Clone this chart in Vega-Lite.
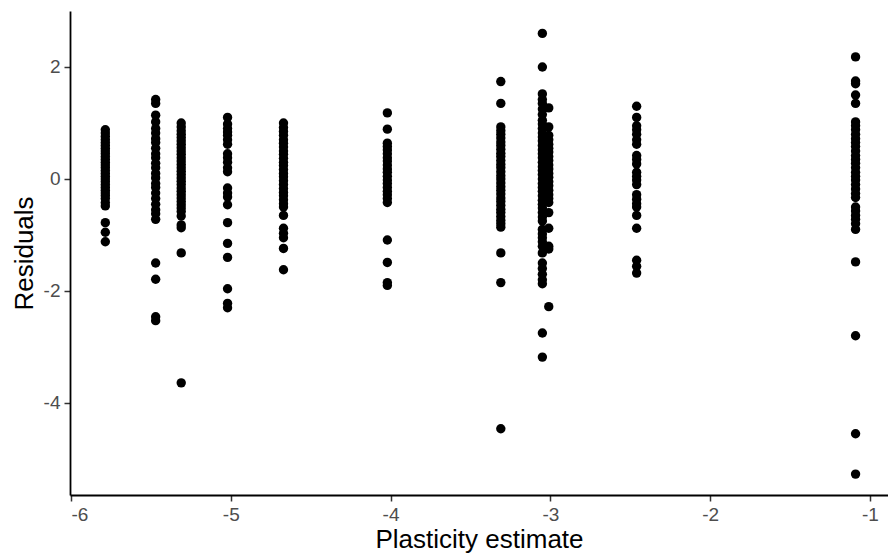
{
  "$schema": "https://vega.github.io/schema/vega-lite/v6.json",
  "autosize": {"type": "none"},
  "padding": {"left": 70, "top": 11, "right": 0, "bottom": 59},
  "width": 818,
  "height": 484,
  "background": "white",
  "config": {
    "view": {"stroke": null},
    "font": "Liberation Sans",
    "axis": {
      "grid": false,
      "domainColor": "black",
      "domainWidth": 1.8,
      "tickColor": "#333333",
      "tickWidth": 1.5,
      "tickSize": 6,
      "labelColor": "#4D4D4D",
      "labelFont": "Liberation Sans",
      "labelFontSize": 19,
      "labelPadding": 4,
      "titleColor": "black",
      "titleFont": "Liberation Sans",
      "titleFontSize": 26,
      "titleFontWeight": "normal"
    }
  },
  "datasets": {
    "pts": [
      {"x": -5.785, "y": 0.88}, {"x": -5.785, "y": 0.82}, {"x": -5.785, "y": 0.76}, {"x": -5.785, "y": 0.7}, {"x": -5.785, "y": 0.65}, {"x": -5.785, "y": 0.6}, {"x": -5.785, "y": 0.55}, {"x": -5.785, "y": 0.5}, {"x": -5.785, "y": 0.45}, {"x": -5.785, "y": 0.4}, {"x": -5.785, "y": 0.35}, {"x": -5.785, "y": 0.3}, {"x": -5.785, "y": 0.25}, {"x": -5.785, "y": 0.2}, {"x": -5.785, "y": 0.15}, {"x": -5.785, "y": 0.1}, {"x": -5.785, "y": 0.05}, {"x": -5.785, "y": 0.0}, {"x": -5.785, "y": -0.05}, {"x": -5.785, "y": -0.1}, {"x": -5.785, "y": -0.15}, {"x": -5.785, "y": -0.2}, {"x": -5.785, "y": -0.25}, {"x": -5.785, "y": -0.3}, {"x": -5.785, "y": -0.35}, {"x": -5.785, "y": -0.42}, {"x": -5.785, "y": -0.48}, {"x": -5.785, "y": -0.78}, {"x": -5.785, "y": -0.95}, {"x": -5.785, "y": -1.12},

      {"x": -5.47, "y": 1.42}, {"x": -5.47, "y": 1.35}, {"x": -5.47, "y": 1.14}, {"x": -5.47, "y": 1.02}, {"x": -5.47, "y": 0.9}, {"x": -5.47, "y": 0.82}, {"x": -5.47, "y": 0.72}, {"x": -5.47, "y": 0.65}, {"x": -5.47, "y": 0.55}, {"x": -5.47, "y": 0.45}, {"x": -5.47, "y": 0.38}, {"x": -5.47, "y": 0.28}, {"x": -5.47, "y": 0.2}, {"x": -5.47, "y": 0.1}, {"x": -5.47, "y": 0.02}, {"x": -5.47, "y": -0.08}, {"x": -5.47, "y": -0.15}, {"x": -5.47, "y": -0.25}, {"x": -5.47, "y": -0.35}, {"x": -5.47, "y": -0.45}, {"x": -5.47, "y": -0.55}, {"x": -5.47, "y": -0.62}, {"x": -5.47, "y": -0.72}, {"x": -5.47, "y": -1.5}, {"x": -5.47, "y": -1.79}, {"x": -5.47, "y": -2.46}, {"x": -5.47, "y": -2.53},

      {"x": -5.31, "y": 1.0}, {"x": -5.31, "y": 0.93}, {"x": -5.31, "y": 0.86}, {"x": -5.31, "y": 0.8}, {"x": -5.31, "y": 0.74}, {"x": -5.31, "y": 0.68}, {"x": -5.31, "y": 0.62}, {"x": -5.31, "y": 0.56}, {"x": -5.31, "y": 0.5}, {"x": -5.31, "y": 0.44}, {"x": -5.31, "y": 0.38}, {"x": -5.31, "y": 0.32}, {"x": -5.31, "y": 0.26}, {"x": -5.31, "y": 0.2}, {"x": -5.31, "y": 0.14}, {"x": -5.31, "y": 0.08}, {"x": -5.31, "y": 0.02}, {"x": -5.31, "y": -0.04}, {"x": -5.31, "y": -0.1}, {"x": -5.31, "y": -0.16}, {"x": -5.31, "y": -0.22}, {"x": -5.31, "y": -0.28}, {"x": -5.31, "y": -0.34}, {"x": -5.31, "y": -0.4}, {"x": -5.31, "y": -0.46}, {"x": -5.31, "y": -0.52}, {"x": -5.31, "y": -0.58}, {"x": -5.31, "y": -0.66}, {"x": -5.31, "y": -0.82}, {"x": -5.31, "y": -0.87}, {"x": -5.31, "y": -1.32}, {"x": -5.31, "y": -3.64},

      {"x": -5.02, "y": 1.1}, {"x": -5.02, "y": 0.98}, {"x": -5.02, "y": 0.9}, {"x": -5.02, "y": 0.84}, {"x": -5.02, "y": 0.78}, {"x": -5.02, "y": 0.7}, {"x": -5.02, "y": 0.62}, {"x": -5.02, "y": 0.45}, {"x": -5.02, "y": 0.38}, {"x": -5.02, "y": 0.3}, {"x": -5.02, "y": 0.2}, {"x": -5.02, "y": 0.13}, {"x": -5.02, "y": -0.16}, {"x": -5.02, "y": -0.25}, {"x": -5.02, "y": -0.32}, {"x": -5.02, "y": -0.46}, {"x": -5.02, "y": -0.78}, {"x": -5.02, "y": -1.15}, {"x": -5.02, "y": -1.4}, {"x": -5.02, "y": -1.96}, {"x": -5.02, "y": -2.22}, {"x": -5.02, "y": -2.3},

      {"x": -4.67, "y": 1.0}, {"x": -4.67, "y": 0.92}, {"x": -4.67, "y": 0.85}, {"x": -4.67, "y": 0.78}, {"x": -4.67, "y": 0.7}, {"x": -4.67, "y": 0.64}, {"x": -4.67, "y": 0.57}, {"x": -4.67, "y": 0.5}, {"x": -4.67, "y": 0.44}, {"x": -4.67, "y": 0.37}, {"x": -4.67, "y": 0.3}, {"x": -4.67, "y": 0.24}, {"x": -4.67, "y": 0.17}, {"x": -4.67, "y": 0.1}, {"x": -4.67, "y": 0.04}, {"x": -4.67, "y": -0.03}, {"x": -4.67, "y": -0.1}, {"x": -4.67, "y": -0.17}, {"x": -4.67, "y": -0.24}, {"x": -4.67, "y": -0.3}, {"x": -4.67, "y": -0.37}, {"x": -4.67, "y": -0.44}, {"x": -4.67, "y": -0.5}, {"x": -4.67, "y": -0.65}, {"x": -4.67, "y": -0.88}, {"x": -4.67, "y": -0.97}, {"x": -4.67, "y": -1.05}, {"x": -4.67, "y": -1.24}, {"x": -4.67, "y": -1.62},

      {"x": -4.02, "y": 1.18}, {"x": -4.02, "y": 0.89}, {"x": -4.02, "y": 0.64}, {"x": -4.02, "y": 0.58}, {"x": -4.02, "y": 0.52}, {"x": -4.02, "y": 0.45}, {"x": -4.02, "y": 0.38}, {"x": -4.02, "y": 0.32}, {"x": -4.02, "y": 0.25}, {"x": -4.02, "y": 0.18}, {"x": -4.02, "y": 0.12}, {"x": -4.02, "y": 0.05}, {"x": -4.02, "y": -0.02}, {"x": -4.02, "y": -0.08}, {"x": -4.02, "y": -0.15}, {"x": -4.02, "y": -0.22}, {"x": -4.02, "y": -0.28}, {"x": -4.02, "y": -0.35}, {"x": -4.02, "y": -0.42}, {"x": -4.02, "y": -1.09}, {"x": -4.02, "y": -1.49}, {"x": -4.02, "y": -1.85}, {"x": -4.02, "y": -1.9},

      {"x": -3.31, "y": 1.74}, {"x": -3.31, "y": 1.35}, {"x": -3.31, "y": 0.93}, {"x": -3.31, "y": 0.86}, {"x": -3.31, "y": 0.8}, {"x": -3.31, "y": 0.73}, {"x": -3.31, "y": 0.66}, {"x": -3.31, "y": 0.6}, {"x": -3.31, "y": 0.53}, {"x": -3.31, "y": 0.46}, {"x": -3.31, "y": 0.4}, {"x": -3.31, "y": 0.33}, {"x": -3.31, "y": 0.26}, {"x": -3.31, "y": 0.2}, {"x": -3.31, "y": 0.13}, {"x": -3.31, "y": 0.06}, {"x": -3.31, "y": 0.0}, {"x": -3.31, "y": -0.07}, {"x": -3.31, "y": -0.14}, {"x": -3.31, "y": -0.2}, {"x": -3.31, "y": -0.27}, {"x": -3.31, "y": -0.34}, {"x": -3.31, "y": -0.4}, {"x": -3.31, "y": -0.47}, {"x": -3.31, "y": -0.54}, {"x": -3.31, "y": -0.6}, {"x": -3.31, "y": -0.67}, {"x": -3.31, "y": -0.74}, {"x": -3.31, "y": -0.8}, {"x": -3.31, "y": -0.86}, {"x": -3.31, "y": -1.32}, {"x": -3.31, "y": -1.85}, {"x": -3.31, "y": -4.46},

      {"x": -3.05, "y": 2.6}, {"x": -3.05, "y": 2.0}, {"x": -3.05, "y": 1.52}, {"x": -3.05, "y": 1.42}, {"x": -3.05, "y": 1.35}, {"x": -3.05, "y": 1.25}, {"x": -3.05, "y": 1.15}, {"x": -3.05, "y": 1.05}, {"x": -3.05, "y": 0.98}, {"x": -3.05, "y": 0.9}, {"x": -3.05, "y": 0.82}, {"x": -3.05, "y": 0.75}, {"x": -3.05, "y": 0.68}, {"x": -3.05, "y": 0.6}, {"x": -3.05, "y": 0.52}, {"x": -3.05, "y": 0.45}, {"x": -3.05, "y": 0.38}, {"x": -3.05, "y": 0.3}, {"x": -3.05, "y": 0.22}, {"x": -3.05, "y": 0.15}, {"x": -3.05, "y": 0.08}, {"x": -3.05, "y": 0.0}, {"x": -3.05, "y": -0.08}, {"x": -3.05, "y": -0.15}, {"x": -3.05, "y": -0.22}, {"x": -3.05, "y": -0.3}, {"x": -3.05, "y": -0.38}, {"x": -3.05, "y": -0.45}, {"x": -3.05, "y": -0.52}, {"x": -3.05, "y": -0.6}, {"x": -3.05, "y": -0.68}, {"x": -3.05, "y": -0.75}, {"x": -3.05, "y": -0.9}, {"x": -3.05, "y": -0.98}, {"x": -3.05, "y": -1.05}, {"x": -3.05, "y": -1.12}, {"x": -3.05, "y": -1.2}, {"x": -3.05, "y": -1.32}, {"x": -3.05, "y": -1.5}, {"x": -3.05, "y": -1.6}, {"x": -3.05, "y": -1.7}, {"x": -3.05, "y": -1.8}, {"x": -3.05, "y": -1.87}, {"x": -3.05, "y": -2.75}, {"x": -3.05, "y": -3.18},

      {"x": -3.01, "y": 1.27}, {"x": -3.01, "y": 0.93}, {"x": -3.01, "y": 0.78}, {"x": -3.01, "y": 0.7}, {"x": -3.01, "y": 0.62}, {"x": -3.01, "y": 0.55}, {"x": -3.01, "y": 0.48}, {"x": -3.01, "y": 0.4}, {"x": -3.01, "y": 0.33}, {"x": -3.01, "y": 0.25}, {"x": -3.01, "y": 0.18}, {"x": -3.01, "y": 0.1}, {"x": -3.01, "y": 0.03}, {"x": -3.01, "y": -0.05}, {"x": -3.01, "y": -0.12}, {"x": -3.01, "y": -0.2}, {"x": -3.01, "y": -0.28}, {"x": -3.01, "y": -0.35}, {"x": -3.01, "y": -0.42}, {"x": -3.01, "y": -0.6}, {"x": -3.01, "y": -0.88}, {"x": -3.01, "y": -1.2}, {"x": -3.01, "y": -1.25}, {"x": -3.01, "y": -2.28},

      {"x": -2.46, "y": 1.3}, {"x": -2.46, "y": 1.1}, {"x": -2.46, "y": 0.95}, {"x": -2.46, "y": 0.88}, {"x": -2.46, "y": 0.8}, {"x": -2.46, "y": 0.7}, {"x": -2.46, "y": 0.62}, {"x": -2.46, "y": 0.42}, {"x": -2.46, "y": 0.35}, {"x": -2.46, "y": 0.27}, {"x": -2.46, "y": 0.12}, {"x": -2.46, "y": 0.05}, {"x": -2.46, "y": -0.02}, {"x": -2.46, "y": -0.1}, {"x": -2.46, "y": -0.28}, {"x": -2.46, "y": -0.36}, {"x": -2.46, "y": -0.44}, {"x": -2.46, "y": -0.5}, {"x": -2.46, "y": -0.65}, {"x": -2.46, "y": -0.88}, {"x": -2.46, "y": -1.45}, {"x": -2.46, "y": -1.56}, {"x": -2.46, "y": -1.68},

      {"x": -1.09, "y": 2.18}, {"x": -1.09, "y": 1.75}, {"x": -1.09, "y": 1.7}, {"x": -1.09, "y": 1.5}, {"x": -1.09, "y": 1.35}, {"x": -1.09, "y": 1.02}, {"x": -1.09, "y": 0.95}, {"x": -1.09, "y": 0.88}, {"x": -1.09, "y": 0.8}, {"x": -1.09, "y": 0.72}, {"x": -1.09, "y": 0.65}, {"x": -1.09, "y": 0.58}, {"x": -1.09, "y": 0.5}, {"x": -1.09, "y": 0.42}, {"x": -1.09, "y": 0.35}, {"x": -1.09, "y": 0.28}, {"x": -1.09, "y": 0.2}, {"x": -1.09, "y": 0.12}, {"x": -1.09, "y": 0.05}, {"x": -1.09, "y": -0.02}, {"x": -1.09, "y": -0.1}, {"x": -1.09, "y": -0.18}, {"x": -1.09, "y": -0.26}, {"x": -1.09, "y": -0.33}, {"x": -1.09, "y": -0.5}, {"x": -1.09, "y": -0.57}, {"x": -1.09, "y": -0.65}, {"x": -1.09, "y": -0.72}, {"x": -1.09, "y": -0.8}, {"x": -1.09, "y": -0.9}, {"x": -1.09, "y": -1.48}, {"x": -1.09, "y": -2.8}, {"x": -1.09, "y": -4.55}, {"x": -1.09, "y": -5.27}
    ]
  },
  "data": {"name": "pts"},
  "mark": {"type": "circle", "color": "black", "opacity": 1, "size": 88},
  "encoding": {
    "x": {
      "field": "x", "type": "quantitative",
      "scale": {"domain": [-6.006, -0.887], "nice": false, "zero": false},
      "axis": {"values": [-6, -5, -4, -3, -2, -1], "labelExpr": "'' + datum.value", "title": "Plasticity estimate", "titlePadding": 2}
    },
    "y": {
      "field": "y", "type": "quantitative",
      "scale": {"domain": [-5.643, 3.0], "nice": false, "zero": false},
      "axis": {"values": [-4, -2, 0, 2], "labelExpr": "'' + datum.value", "title": "Residuals", "titlePadding": 6}
    }
  }
}
